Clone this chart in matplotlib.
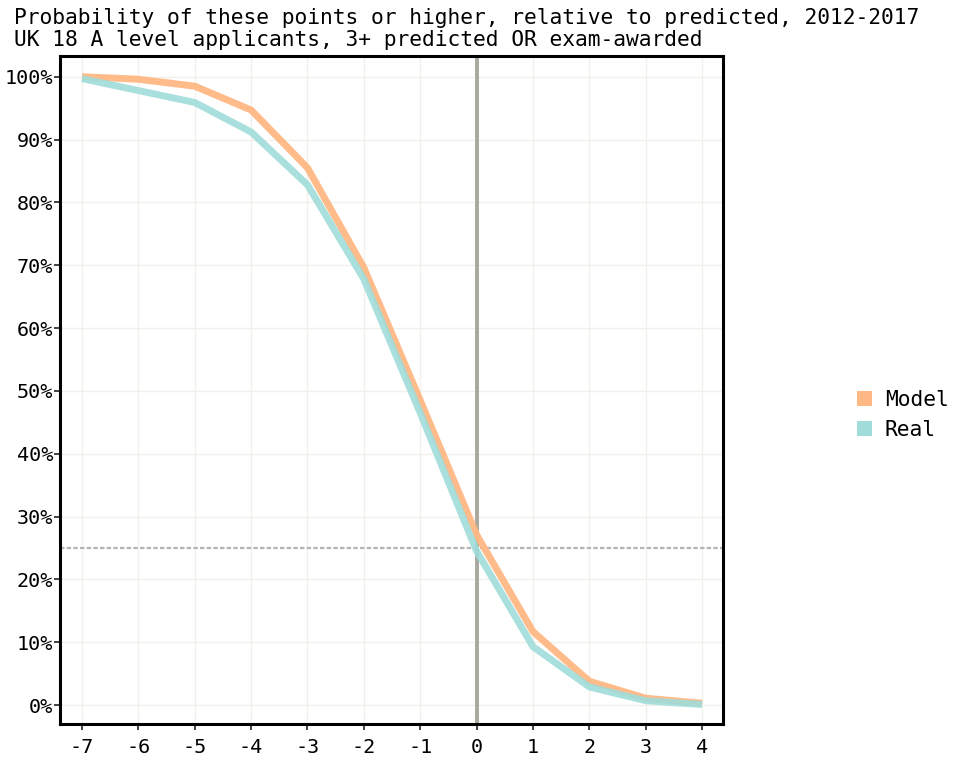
import matplotlib.pyplot as plt
from matplotlib.ticker import FuncFormatter
from matplotlib.patches import Patch

points = [-7, -6, -5, -4, -3, -2, -1, 0, 1, 2, 3, 4]
model = [100.0, 99.6, 98.5, 94.7, 85.5, 69.6, 48.5, 27.1, 11.7, 3.8, 1.1, 0.3]
real = [99.7, 97.8, 95.9, 91.2, 82.8, 67.8, 46.5, 24.5, 9.3, 2.9, 0.7, 0.1]

model_color = '#FFB883'
real_color = '#A0DCDA'

plt.rcParams['font.family'] = ['DejaVu Sans Mono']
plt.rcParams['axes.unicode_minus'] = False

fig = plt.figure(figsize=(9.76, 7.78), dpi=100)
ax = fig.add_axes([60 / 976, 1 - 724 / 778, 663 / 976, 668 / 778])

ax.grid(True, color='#f1f0ea', linewidth=1.0, zorder=0)
ax.set_axisbelow(True)
ax.axvline(0, color='#a9a89e', linewidth=2.8, zorder=2)
ax.axhline(25, color='#b5b5b5', linewidth=1.6, linestyle=(0, (2, 1)), zorder=2)

ax.plot(points, model, color=model_color, linewidth=5, solid_capstyle='butt', alpha=0.95, zorder=3)
ax.plot(points, real, color=real_color, linewidth=5, solid_capstyle='butt', alpha=0.9, zorder=3)

ax.set_xlim(-7.39, 4.37)
ax.set_ylim(-3.0, 103.3)
ax.set_xticks(points)
ax.set_yticks(range(0, 101, 10))
ax.yaxis.set_major_formatter(FuncFormatter(lambda v, p: f'{int(v)}%'))
ax.tick_params(axis='both', labelsize=14.5, length=4, width=1.2, color='#222222')
ax.tick_params(axis='x', pad=6)
ax.tick_params(axis='y', pad=1)

for s in ax.spines.values():
    s.set_linewidth(2.2)
    s.set_color('black')

fig.text(14 / 976, 1 - 18 / 778,
         'Probability of these points or higher, relative to predicted, 2012-2017',
         fontsize=15.3, va='center', ha='left')
fig.text(14 / 976, 1 - 40 / 778,
         'UK 18 A level applicants, 3+ predicted OR exam-awarded',
         fontsize=15.3, va='center', ha='left')

handles = [Patch(facecolor=model_color, label='Model'),
           Patch(facecolor=real_color, label='Real')]
fig.legend(handles=handles, loc='center left', bbox_to_anchor=(838 / 976, 1 - 415 / 778),
           frameon=False, fontsize=15.3, handlelength=0.7, handleheight=0.7,
           handletextpad=0.6, labelspacing=0.45)

plt.savefig('out.png', dpi=100)
